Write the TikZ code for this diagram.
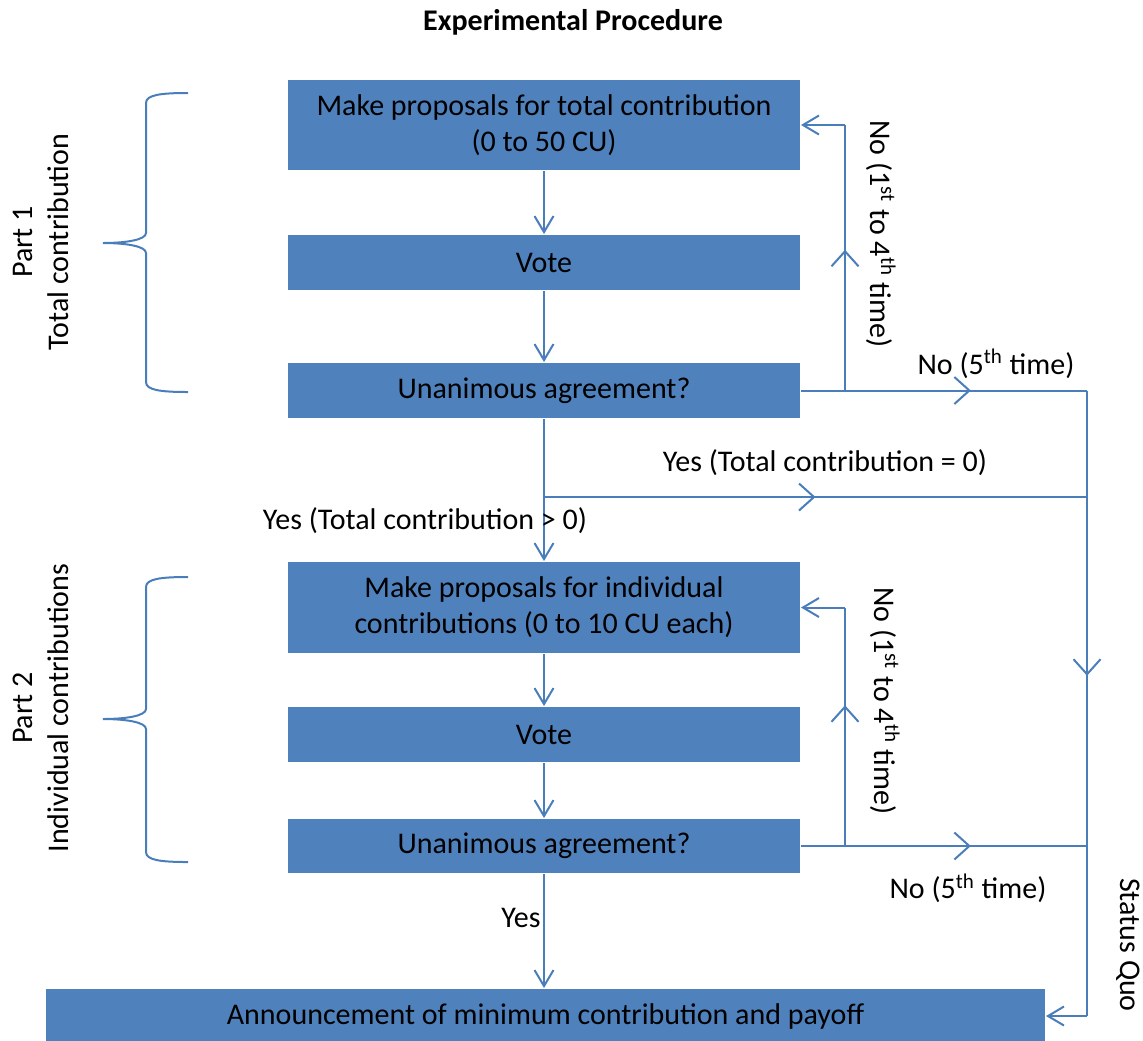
\documentclass[tikz,border=0pt]{standalone}
\usepackage{fontspec}
\setmainfont{Carlito}
\usetikzlibrary{arrows.meta,decorations.markings,positioning}
\definecolor{boxblue}{HTML}{4F81BD}
\definecolor{lineblue}{HTML}{4A7EBB}

\begin{document}
\begin{tikzpicture}[
    x = 0.5pt, y = -0.5pt, % one unit = one pixel, y grows downwards
    font = \fontsize{15}{18}\selectfont,
    line width = 1pt % line style
    ]

    \tikzset{stage/.style={
    fill = boxblue,
    text = black,
    align = center,
    minimum width = 256pt,
    inner sep = 0pt
    }}
    \tikzset{link/.style={draw = lineblue}}
    \tikzset{flow/.style={link, -{Straight Barb[length=8pt,width=9.5pt]}}}
    \tikzset{midflow/.style={link, postaction={decorate},
    decoration={markings, mark=at position #1 with {\arrow{Straight Barb[length=7.5pt,width=13.5pt]}}}},
    midflow/.default=0.5}

    \useasboundingbox (0,0) rectangle (1143,1040);

    \node[font=\fontsize{15}{18}\selectfont\bfseries] (title) at (573,22) {Experimental Procedure};

    \node[stage, minimum height=45pt] (prop1) at (544,125) {Make proposals for total contribution\\(0 to 50 CU)};
    \node[stage, minimum height=27.5pt] (vote1) at (544,262.5) {Vote};
    \node[stage, minimum height=27.5pt] (agree1) at (544,390.5) {Unanimous agreement?};
    \node[stage, minimum height=45.5pt] (prop2) at (544,607.5) {Make proposals for individual\\contributions (0 to 10 CU each)};
    \node[stage, minimum height=27.5pt] (vote2) at (544,734.5) {Vote};
    \node[stage, minimum height=27pt] (agree2) at (544,846) {Unanimous agreement?};
    \node[stage, minimum width=499.5pt, minimum height=27pt] (payoff) at (545.5,1016) {Announcement of minimum contribution and payoff};

    % corners of the connectors
    \coordinate (r1) at (845,390.5);
    \coordinate (q1) at (1087,390.5);
    \coordinate (y0) at (544,497);
    \coordinate (q0) at (1087,497);
    \coordinate (r2) at (845,846);
    \coordinate (q2) at (1087,846);
    \coordinate (sq) at (1087,1016);

    \draw[flow] (prop1) -- (vote1);
    \draw[flow] (vote1) -- (agree1);
    \draw[flow] (agree1) -- (prop2);
    \draw[flow] (prop2) -- (vote2);
    \draw[flow] (vote2) -- (agree2);
    \draw[flow] (agree2) -- (agree2 |- payoff.north);

    \draw[link] (agree1) -- (r1);
    \draw[midflow=0.53] (r1) -- (r1 |- prop1.east);
    \draw[flow] (r1 |- prop1.east) -- (prop1.east);
    \draw[midflow=0.52] (r1) -- (q1);
    \draw[midflow] (y0) -- (q0);

    \draw[link] (agree2) -- (r2);
    \draw[midflow=0.59] (r2) -- (r2 |- prop2.east);
    \draw[flow] (r2 |- prop2.east) -- (prop2.east);
    \draw[midflow=0.52] (r2) -- (q2);

    \draw[midflow=0.456] (q1) -- (sq);
    \draw[flow] (sq) -- (payoff.east);

    % labels
    \node[rotate=-90] (no1) at (881,234) {No (1\textsuperscript{st} to 4\textsuperscript{th} time)};
    \node (five1) at (996,364) {No (5\textsuperscript{th} time)};
    \node (zero) at (825,463) {Yes (Total contribution = 0)};
    \node (more) at (425,521) {Yes (Total contribution > 0)};
    \node[rotate=-90] (no2) at (885,701) {No (1\textsuperscript{st} to 4\textsuperscript{th} time)};
    \node (five2) at (968,888) {No (5\textsuperscript{th} time)};
    \node (yes) at (521,918) {Yes};
    \node[rotate=-90] (quo) at (1128,945) {Status Quo};

    % braces
    \foreach \t/\m/\b in {93/243/392, 577/719/862}
    \draw[link] (188,\t) .. controls (160,\t) and (146,\t+2) .. (146,\t+10)
      -- (146,\m-10) .. controls (146,\m-3) and (125,\m) .. (103,\m)
      .. controls (125,\m) and (146,\m+3) .. (146,\m+10)
      -- (146,\b-10) .. controls (146,\b-2) and (160,\b) .. (188,\b);

    \node[rotate=90, align=center] (part1) at (41,242) {Part 1\\Total contribution};
    \node[rotate=90, align=center] (part2) at (41,708) {Part 2\\Individual contributions};
\end{tikzpicture}
\end{document}
